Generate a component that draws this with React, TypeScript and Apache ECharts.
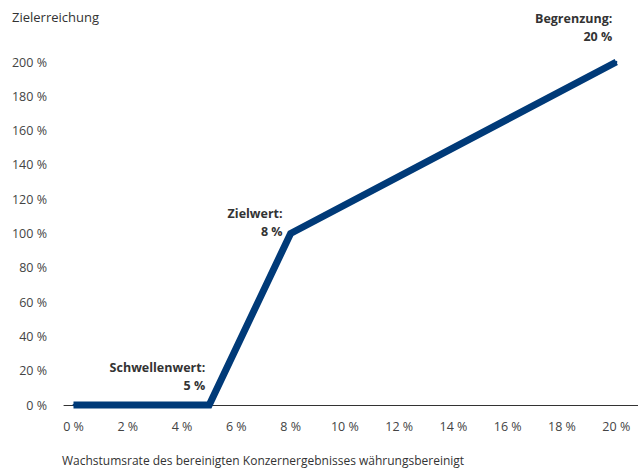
import React, { useEffect, useRef } from "react";
import * as echarts from "echarts";

const growthRates = [0, 5, 8, 20];
const targetAchievement = [0, 0, 100, 200];
const annotations = ["", "Schwellenwert:\n5 %", "Zielwert:\n8 %", "Begrenzung:\n20 %"];
const xTickValues = [0, 2, 4, 6, 8, 10, 12, 14, 16, 18, 20];
const yAxisTitle = "Zielerreichung";
const xAxisTitle = "Wachstumsrate des bereinigten Konzernergebnisses währungsbereinigt";

const labelOffsets: number[][] = [[0, 0], [-3, -28], [-7, -10], [-3, -34]];

export default function App() {
  const ref = useRef<HTMLDivElement>(null);
  useEffect(() => {
    if (!ref.current) return;
    const chart = echarts.init(ref.current, undefined, { renderer: "svg" });
    const font = "'Open Sans', 'Noto Sans', sans-serif";
    chart.setOption({
      animation: false,
      textStyle: { fontFamily: font },
      title: [
        {
          text: yAxisTitle,
          left: 12,
          top: 10,
          padding: 0,
          textStyle: { fontSize: 13, fontWeight: "normal", color: "#333", fontFamily: font },
        },
        {
          text: xAxisTitle,
          left: 62,
          top: 454,
          padding: 0,
          textStyle: { fontSize: 12, fontWeight: "normal", color: "#333", fontFamily: font },
        },
      ],
      grid: { left: 64, right: 0, top: 62, bottom: 65, containLabel: false },
      xAxis: {
        type: "value",
        min: -0.35,
        max: 20.8,
        splitLine: { show: false },
        axisTick: { show: false },
        axisLine: { show: true, onZero: false, lineStyle: { color: "#333", width: 1 } },
        axisLabel: {
          customValues: xTickValues,
          formatter: (v: number) => `${v} %`,
          color: "#444",
          fontSize: 12.5,
          margin: 15,
          fontFamily: font,
        },
      },
      yAxis: {
        type: "value",
        min: 0,
        max: 200,
        interval: 20,
        splitLine: { show: false },
        axisTick: { show: false },
        axisLine: { show: false },
        axisLabel: {
          formatter: (v: number) => `${v} %`,
          color: "#444",
          fontSize: 12.5,
          margin: 17,
          fontFamily: font,
        },
      },
      series: [
        {
          type: "line",
          clip: false,
          symbol: "circle",
          symbolSize: 2,
          itemStyle: { color: "#003a78" },
          lineStyle: { color: "#003a78", width: 7, cap: "butt", join: "miter" },
          data: growthRates.map((x, i) => ({
            value: [x, targetAchievement[i]],
            label: {
              show: annotations[i] !== "",
              formatter: annotations[i],
              position: labelOffsets[i],
              align: "right",
              verticalAlign: "middle",
              fontSize: 12.5,
              fontWeight: "bold",
              lineHeight: 18,
              color: "#333",
              fontFamily: font,
            },
          })),
        },
      ],
    });
    return () => chart.dispose();
  }, []);
  return <div ref={ref} style={{ width: 638, height: 470, position: "absolute", left: 0, top: 0 }} />;
}
